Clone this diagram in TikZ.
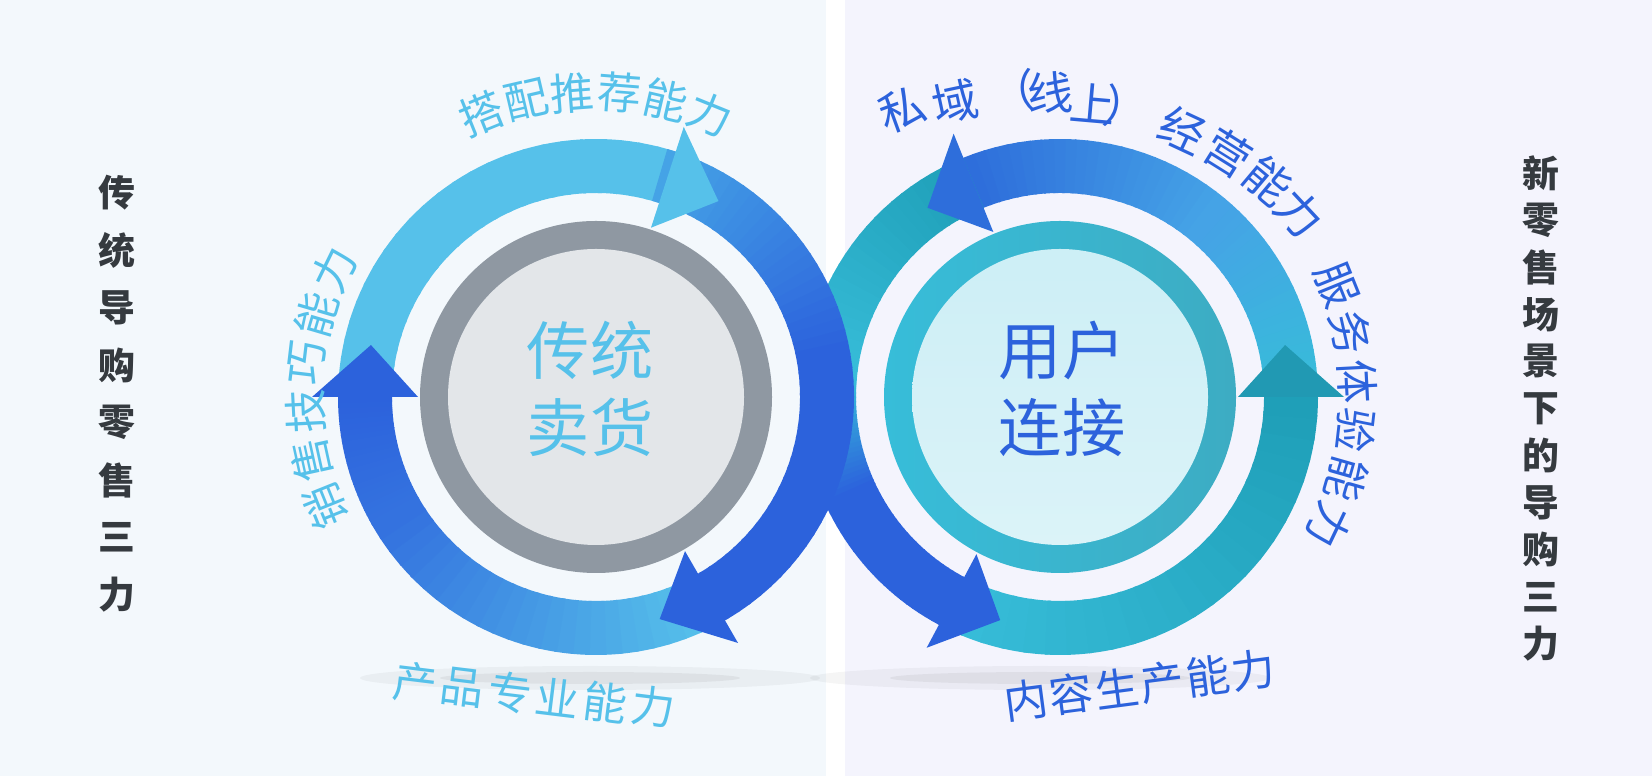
\documentclass[tikz,border=0pt]{standalone}
\usepackage{fontspec}
\setmainfont{Noto Sans CJK SC}
\usetikzlibrary{positioning}
\definecolor{bgleft}{HTML}{F3F8FC}
\definecolor{bgright}{HTML}{F4F4FD}
\definecolor{lightblue}{HTML}{56C1EA}
\definecolor{midblue}{HTML}{45A3E6}
\definecolor{darkblue}{HTML}{2C62DC}
\definecolor{skyblue}{HTML}{3472DF}
\definecolor{cyanring}{HTML}{37BDD9}
\definecolor{tealring}{HTML}{1F9FB8}
\definecolor{tealhead}{HTML}{2199B3}
\definecolor{topblue}{HTML}{2E6EDB}
\definecolor{grayring}{HTML}{8F98A2}
\definecolor{grayfill}{HTML}{E3E6E9}
\definecolor{sidetext}{HTML}{353A3F}
% gradient band along the ring: centre, from angle, to angle, start colour, end colour
\newcommand{\ringband}[5]{%
  \foreach \k in {0,...,23}{%
    \pgfmathsetmacro\sa{#2+(#3-#2)*\k/24}
    \pgfmathsetmacro\sb{#2+(#3-#2)*(\k+1.2)/24}
    \pgfmathsetmacro\pc{100*\k/23}
    \draw[band, draw=#5!\pc!#4] ([shift={(\sa:231)}]#1) arc (\sa:\sb:231);
  }}
% arrow head on the ring: centre, base angle, tip angle, colour
\newcommand{\ringtip}[4]{%
  \fill[#4] ([shift={(#2:178)}]#1) -- ([shift={(#2:284)}]#1) -- ([shift={(#3:231)}]#1) -- cycle;}
\begin{document}
\begin{tikzpicture}[
    x=0.02cm, y=0.02cm,
    band/.style = {line width=1.08cm},
    sidechar/.style = {text=sidetext, font=\fontsize{21}{21}\selectfont\bfseries, inner sep=0pt},
    lightlab/.style = {text=lightblue, font=\fontsize{25}{25}\selectfont, inner sep=0pt},
    darklab/.style = {text=darkblue, font=\fontsize{25}{25}\selectfont, inner sep=0pt},
    centrelab/.style = {align=center, inner sep=0pt, font=\fontsize{36}{44}\selectfont}
  ]
  \useasboundingbox (0,0) rectangle (1652,776);
  % backgrounds
  \fill[bgleft] (0,0) rectangle (826,776);
  \fill[white] (826,0) rectangle (845,776);
  \fill[bgright] (845,0) rectangle (1652,776);
  \coordinate (L) at (596,379);
  \coordinate (R) at (1060,379);
  % shadows
  \fill[black, opacity=0.04] (590,98) ellipse (230 and 12);
  \fill[black, opacity=0.05] (590,98) ellipse (150 and 6);
  \fill[black, opacity=0.04] (1040,98) ellipse (230 and 12);
  \fill[black, opacity=0.05] (1040,98) ellipse (150 and 6);

  % right loop
  \ringband{R}{0}{50}{cyanring}{midblue}
  \ringband{R}{50}{112}{midblue}{topblue}
  \ringband{R}{-118}{0}{cyanring}{tealring}
  \ringband{R}{112}{175}{tealring}{cyanring}
  \ringband{R}{175}{205}{cyanring}{darkblue}
  \ringband{R}{205}{245}{darkblue}{darkblue}
  % left loop
  \ringband{L}{176}{72}{lightblue}{lightblue}
  \ringband{L}{74}{10}{midblue}{darkblue}
  \ringband{L}{10}{-62}{darkblue}{darkblue}
  \ringband{L}{-62}{-150}{lightblue}{skyblue}
  \ringband{L}{-150}{-180}{skyblue}{darkblue}
  % arrow heads
  \ringtip{R}{112}{125}{topblue}
  \ringtip{R}{0}{13}{tealhead}
  \ringtip{R}{-118}{-105}{darkblue}
  \ringtip{L}{72}{58}{lightblue}
  \ringtip{L}{-60}{-74}{darkblue}
  \ringtip{L}{180}{167}{darkblue}

  % inner circles
  \fill[grayring] (L) circle (176);
  \fill[grayfill] (L) circle (148);
  \shade[left color=cyanring, right color=tealring!60!gray!40!cyanring] (R) circle (176);
  \shade[top color=cyanring!25, bottom color=cyanring!18!white] (R) circle (148);
  \node[centrelab, text=lightblue] (sell) at (590,387) {传统\\卖货};
  \node[centrelab, text=darkblue] (link) at (1062,387) {用户\\连接};

  % ring labels
  \foreach \ch [count=\i] in {搭,配,推,荐,能,力}{
    \pgfmathsetmacro\ang{112-(\i-1)*8.8}
    \node[lightlab, rotate=\ang-90] (match\i) at ([shift={(\ang:305)}]L) {\ch};
  }
  \foreach \ch [count=\i] in {销,售,技,巧,能,力}{
    \pgfmathsetmacro\ang{202-(\i-1)*9.6}
    \node[lightlab, rotate=\ang-90] (skill\i) at ([shift={(\ang:291)}]L) {\ch};
  }
  \foreach \ch [count=\i] in {产,品,专,业,能,力}{
    \node[lightlab, rotate=-7] (prod\i) at ({415+(\i-1)*47.6}, {93-(\i-1)*4.8}) {\ch};
  }
  \foreach \ch/\px/\py/\rot [count=\i] in {私/902/110/20, 域/955/102/12, 线/1050/93/3,
      上/1093/103/-5, 经/1183/130/-25, 营/1228/153/-32, 能/1268/181/-40, 力/1300/213/-47}{
    \node[darklab, font=\fontsize{26}{26}\selectfont, rotate=\rot] (own\i) at (\px,776-\py) {\ch};
  }
  \node[darklab, font=\fontsize{26}{26}\selectfont, rotate=6] (ownopen) at (1012,776-92) {\symbol{"FF08}};
  \node[darklab, font=\fontsize{26}{26}\selectfont, rotate=-10] (ownclose) at (1127,776-108) {\symbol{"FF09}};
  \foreach \ch [count=\i] in {服,务,体,验,能,力}{
    \pgfmathsetmacro\ang{22-(\i-1)*9.5}
    \node[darklab, rotate=\ang-90] (serve\i) at ([shift={(\ang:298)}]R) {\ch};
  }
  \foreach \ch [count=\i] in {内,容,生,产,能,力}{
    \node[darklab, rotate=7.5] (make\i) at ({1026+(\i-1)*45.4}, {76+(\i-1)*6}) {\ch};
  }

  % side titles
  \foreach \ch [count=\i] in {传,统,导,购,零,售,三,力}{
    \node[sidechar] (old\i) at (117, {776-193-(\i-1)*57.4}) {\ch};
  }
  \foreach \ch [count=\i] in {新,零,售,场,景,下,的,导,购,三,力}{
    \node[sidechar] (new\i) at (1541, {776-173-(\i-1)*47.1}) {\ch};
  }
\end{tikzpicture}
\end{document}
